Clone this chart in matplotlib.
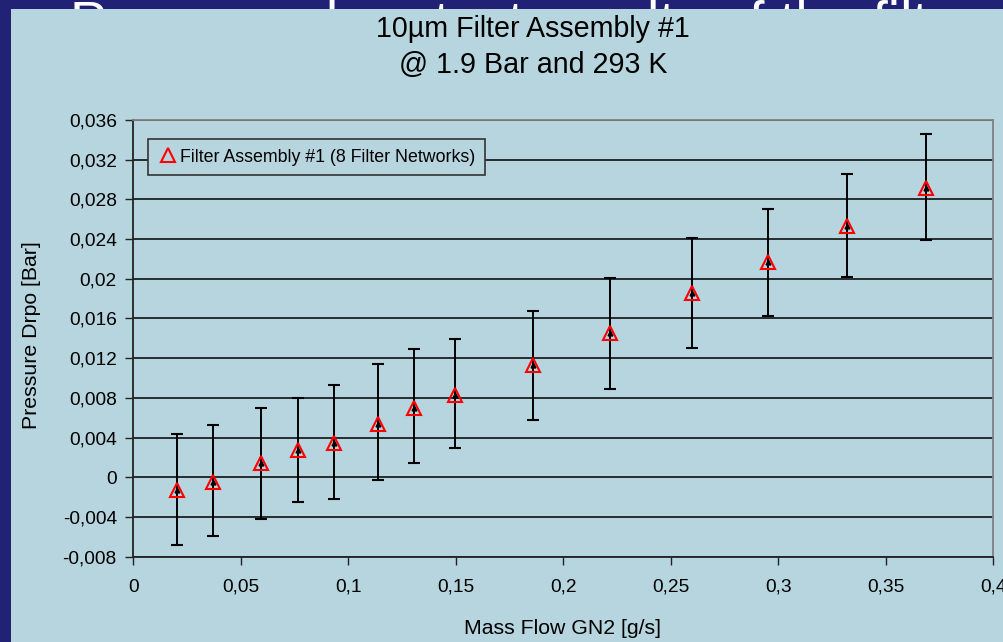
import matplotlib
matplotlib.use("Agg")
import matplotlib.pyplot as plt
from matplotlib.patches import Rectangle

# ---- data ----
mass_flow = [0.0202, 0.0370, 0.0593, 0.0765, 0.0933, 0.1137, 0.1305, 0.1495,
             0.1858, 0.2216, 0.2597, 0.2951, 0.3317, 0.3685]
pressure_drop = [-0.00128, -0.00044, 0.00144, 0.00275, 0.00348, 0.00540, 0.00700, 0.00830,
                 0.01131, 0.01451, 0.01854, 0.02166, 0.02532, 0.02918]
err_top = [0.00439, 0.00527, 0.00700, 0.00800, 0.00930, 0.01140, 0.01290, 0.01390,
           0.01676, 0.02011, 0.02414, 0.02700, 0.03059, 0.03459]
err_bottom = [-0.00682, -0.00592, -0.00417, -0.00249, -0.00219, -0.00030, 0.00140, 0.00300,
              0.00580, 0.00890, 0.01306, 0.01625, 0.02020, 0.02394]

xticks = [0, 0.05, 0.1, 0.15, 0.2, 0.25, 0.3, 0.35, 0.4]
xtick_labels = ["0", "0,05", "0,1", "0,15", "0,2", "0,25", "0,3", "0,35", "0,4"]
yticks = [-0.008, -0.004, 0, 0.004, 0.008, 0.012, 0.016, 0.02, 0.024, 0.028, 0.032, 0.036]
ytick_labels = ["-0,008", "-0,004", "0", "0,004", "0,008", "0,012", "0,016", "0,02",
                "0,024", "0,028", "0,032", "0,036"]

title_1 = "10µm Filter Assembly #1"
title_2 = "@ 1.9 Bar and 293 K"
x_label = "Mass Flow GN2 [g/s]"
y_label = "Pressure Drpo [Bar]"
series_label = "Filter Assembly #1 (8 Filter Networks)"
slide_title = "Pressure drop test results of the filter assembly"

# ---- style ----
plt.rcParams["font.family"] = ["Liberation Sans", "DejaVu Sans"]
NAVY = "#212176"
PANEL = "#b7d5df"
W, H = 1004, 642

fig = plt.figure(figsize=(W / 100, H / 100), dpi=100, facecolor=NAVY)

# slide title: only the tips of its tall letters peek above the chart panel
strip = Rectangle((0, 1 - 9 / H), 1, 9 / H, transform=fig.transFigure,
                  facecolor="none", edgecolor="none")
fig.patches.append(strip)
st = fig.text(70 / W, 1 - 40 / H, slide_title, color="white", fontsize=40,
              ha="left", va="baseline", zorder=0.5)
st.set_clip_path(strip)
fig.patches.append(Rectangle((11 / W, 0), 1 - 11 / W, 1 - 9 / H, transform=fig.transFigure,
                             facecolor=PANEL, edgecolor="none", zorder=1))

ax = fig.add_axes([133.5 / W, 1 - 556.7 / H, (993.5 - 133.5) / W, (556.7 - 120) / H])
ax.set_zorder(2)
ax.set_facecolor(PANEL)

err_up = [t - y for t, y in zip(err_top, pressure_drop)]
err_dn = [y - b for y, b in zip(pressure_drop, err_bottom)]

ax.errorbar(mass_flow, pressure_drop, yerr=[err_dn, err_up], fmt="none", ecolor="black",
            elinewidth=1.4, capsize=4.5, capthick=1.5, zorder=3)
ax.plot(mass_flow, pressure_drop, linestyle="none", marker="^", markersize=3.5,
        color="black", zorder=4)
ax.plot(mass_flow, pressure_drop, linestyle="none", marker="^", markersize=10,
        markerfacecolor="none", markeredgecolor="red", markeredgewidth=1.5,
        zorder=5, label=series_label)

ax.set_xlim(0, 0.4)
ax.set_ylim(-0.008, 0.036)
ax.set_xticks(xticks)
ax.set_xticklabels(xtick_labels)
ax.set_yticks(yticks)
ax.set_yticklabels(ytick_labels)
ax.tick_params(axis="both", direction="out", length=6, width=1, color="#222222",
               labelsize=13.8, labelcolor="black")
ax.tick_params(axis="x", pad=10)
ax.tick_params(axis="y", pad=6)
ax.yaxis.grid(True, color="black", linewidth=1.1)
ax.set_axisbelow(True)

for s in ["left", "bottom"]:
    ax.spines[s].set_color("#222222")
    ax.spines[s].set_linewidth(1.3)
for s in ["top", "right"]:
    ax.spines[s].set_color("#808080")
    ax.spines[s].set_linewidth(1.3)

leg = ax.legend(loc="upper left", bbox_to_anchor=(0.0163, 0.957), fontsize=12.8,
                frameon=True, fancybox=False, framealpha=1, facecolor=PANEL,
                edgecolor="#333333", handlelength=1.2, handletextpad=0.1,
                borderpad=0.55, borderaxespad=0)
leg.get_frame().set_linewidth(1.2)
leg.set_zorder(6)

fig.text(533 / W, 1 - 37 / H, title_1, fontsize=20.6, ha="center", va="baseline")
fig.text(533 / W, 1 - 73 / H, title_2, fontsize=20.6, ha="center", va="baseline")
fig.text(563 / W, 1 - 634 / H, x_label, fontsize=15.3, ha="center", va="baseline")
fig.text(32 / W, 1 - 335 / H, y_label, fontsize=15.3, ha="center", va="center",
         rotation=90)

fig.savefig("out.png", dpi=100, facecolor=NAVY)
